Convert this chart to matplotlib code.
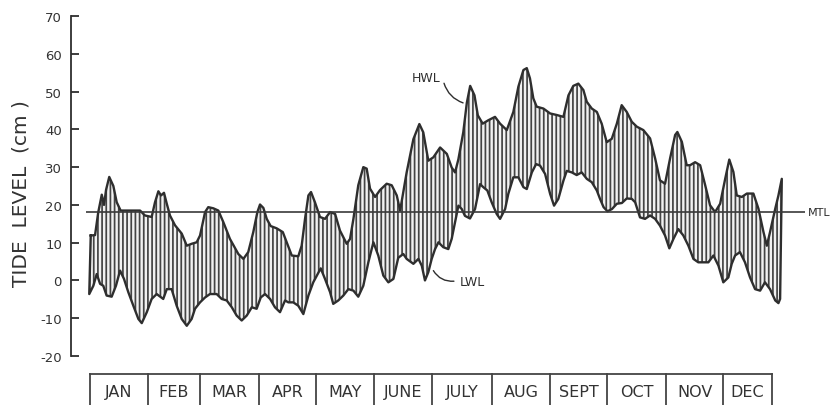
import numpy as np
import matplotlib
matplotlib.use("Agg")
import matplotlib.pyplot as plt

# ---------------- data (day of year, cm) ----------------
hwl_day = [0.4, 2.7, 4.4, 6.3, 7.5, 8.6, 10.3, 12.5, 14.3, 16.4, 19.6, 26.8, 29.4, 33.0, 34.8,
           36.6, 38.0, 39.6, 41.1, 42.8, 45.5, 49.1, 51.8, 54.4, 57.1, 58.9, 61.6, 63.3, 66.0,
           68.7, 71.4, 74.9, 79.4, 82.1, 84.7, 87.4, 89.6, 91.0, 92.8, 94.6, 96.7, 99.9, 103.2,
           105.3, 108.0, 111.5, 113.3, 115.1, 116.9, 118.3, 120.4, 123.1, 125.8, 128.5, 131.2,
           133.8, 137.4, 139.2, 141.0, 143.6, 146.3, 148.1, 149.9, 152.6, 155.2, 158.8, 161.5,
           164.2, 166.0, 169.5, 173.1, 176.3, 178.4, 181.1, 183.8, 187.4, 191.0, 193.6, 195.4,
           197.2, 199.8, 201.7, 203.5, 205.8, 207.6, 210.2, 213.2, 216.8, 219.5, 223.1, 226.6,
           229.3, 232.0, 233.8, 235.5, 237.3, 239.1, 242.7, 246.3, 249.8, 253.4, 256.1, 258.7,
           261.4, 264.1, 265.9, 268.6, 271.3, 273.9, 276.6, 279.3, 282.0, 284.6, 287.3, 290.0,
           292.7, 296.2, 299.8, 302.5, 305.1, 307.8, 310.5, 313.2, 314.4, 316.8, 319.4, 321.2,
           323.9, 326.6, 329.3, 331.9, 334.6, 337.3, 340.0, 342.2, 344.4, 346.2, 348.9, 351.6,
           355.1, 357.8, 360.5, 362.3, 364.0, 366.8, 368.5, 370.3]
hwl_cm = [11.9, 12.0, 18.0, 22.7, 20.0, 24.0, 27.4, 25.0, 20.7, 18.5, 18.5, 18.5, 17.2, 16.8, 20.7,
          23.6, 22.5, 23.2, 20.3, 17.2, 14.6, 12.4, 9.2, 9.7, 10.1, 11.9, 18.1, 19.4, 19.1,
          18.5, 15.4, 11.0, 7.0, 5.7, 7.5, 12.8, 18.1, 20.1, 19.2, 16.3, 14.4, 13.8, 12.8,
          10.1, 6.6, 6.4, 9.2, 16.3, 22.5, 23.4, 20.7, 16.8, 16.3, 18.1, 17.6,
          13.2, 9.7, 11.0, 16.3, 25.2, 30.0, 29.6, 24.3, 22.1, 23.9, 25.6, 25.2,
          22.5, 18.5, 28.6, 37.4, 41.4, 39.2, 31.7, 32.6, 35.2, 33.5, 29.9, 28.6,
          32.1, 39.2, 47.0, 51.5, 49.0, 43.7, 41.5, 42.4, 43.3, 41.5, 39.8, 44.6,
          51.3, 55.7, 56.2, 53.5, 48.2, 46.0, 45.5, 44.2, 43.8, 43.3, 49.0, 51.5,
          52.1, 50.4, 47.3, 45.5, 44.6, 41.5, 36.6, 37.5, 41.5, 46.4, 44.6, 42.0,
          40.7, 39.8, 37.6, 32.3, 26.5, 25.6, 32.3, 38.5, 39.3, 36.7, 30.5, 30.5,
          31.3, 30.5, 25.2, 19.9, 18.1, 20.3, 26.9, 32.0, 28.7, 22.5, 22.1, 23.0,
          23.0, 19.0, 12.8, 9.2, 12.8, 19.0, 22.5, 26.9]

lwl_day = [-0.4, 1.8, 3.6, 5.4, 7.1, 8.9, 11.6, 13.9, 16.1, 18.2, 20.5, 23.2, 25.9, 27.7, 30.4,
           33.0, 35.7, 39.2, 41.1, 43.7, 46.4, 49.1, 51.8, 54.4, 56.2, 58.9, 61.6, 64.2, 67.8,
           70.5, 73.2, 75.9, 78.5, 81.2, 83.9, 86.6, 89.2, 91.4, 93.7, 96.4, 99.0, 101.7, 104.4,
           106.2, 108.8, 111.5, 114.2, 116.9, 119.5, 123.5, 125.8, 128.5, 130.2, 132.9, 135.6,
           138.3, 141.0, 143.6, 146.3, 149.0, 151.7, 154.3, 157.0, 159.7, 162.4, 165.0, 167.7,
           169.5, 173.1, 175.8, 177.6, 179.3, 181.1, 182.9, 184.7, 186.5, 189.1, 191.8, 193.6,
           195.4, 197.2, 199.0, 200.7, 203.4, 206.1, 208.8, 210.5, 212.7, 215.0, 217.7, 219.5,
           222.2, 223.9, 226.6, 229.3, 232.0, 233.8, 236.5, 238.8, 240.9, 243.6, 246.3, 248.4,
           250.7, 253.4, 255.2, 257.9, 260.5, 263.2, 265.9, 268.6, 271.3, 273.0, 274.9, 277.0,
           279.4, 282.0, 284.7, 287.3, 290.0, 291.8, 294.4, 297.1, 299.8, 302.5, 305.1, 307.8,
           310.1, 312.3, 314.9, 317.6, 320.3, 323.0, 325.6, 328.3, 331.0, 333.7, 336.4, 339.0,
           341.7, 343.5, 345.3, 347.9, 350.6, 353.3, 356.0, 358.7, 361.3, 364.0, 366.8, 368.5,
           369.4]
lwl_cm = [-3.6, -1.4, 1.7, -0.9, -1.4, -4.0, -4.3, -1.4, 2.6, 0.4, -3.1, -6.7, -10.2, -11.3, -8.4,
          -4.9, -3.6, -4.9, -2.3, -2.3, -6.7, -10.2, -12.0, -10.2, -7.5, -5.8, -4.5, -3.6, -3.6,
          -4.9, -5.3, -7.1, -9.3, -10.6, -9.3, -7.1, -7.5, -4.5, -3.6, -4.9, -7.1, -8.4, -5.3,
          -5.8, -5.8, -6.7, -8.9, -4.0, -0.5, 3.2, 0.4, -3.1, -6.2, -5.3, -4.0,
          -2.3, -2.7, -4.3, -1.4, 4.8, 10.1, 6.6, 1.3, -0.5, 0.4, 6.0, 7.0,
          5.7, 4.4, 5.7, 3.9, 0.0, 2.2, 5.7, 8.3, 10.1, 8.8, 8.3, 11.0,
          15.4, 19.8, 18.9, 17.1, 16.4, 18.9, 25.5, 24.7, 23.8, 20.7, 17.6, 16.3,
          18.9, 22.9, 27.3, 27.3, 24.7, 24.2, 28.6, 30.8, 30.4, 28.2, 22.9, 19.8,
          21.6, 26.4, 29.0, 28.6, 27.9, 28.6, 26.9, 26.0, 23.8, 21.6, 19.4, 18.3,
          18.9, 20.3, 20.5, 21.7, 21.6, 20.7, 16.7, 16.3, 17.2, 16.3, 14.5, 11.9,
          8.5, 11.0, 13.6, 11.9, 9.2, 5.7, 4.8, 4.8, 4.8, 6.6, 3.9, -0.5,
          0.8, 4.4, 6.6, 7.5, 4.8, 0.8, -2.3, -2.7, -0.5, -2.3, -5.3, -6.0,
          -4.9]

mtl_cm = 18
months = ["JAN", "FEB", "MAR", "APR", "MAY", "JUNE", "JULY", "AUG", "SEPT", "OCT", "NOV", "DEC"]
month_edges = [0, 31.0, 58.9, 90.5, 121.0, 152.0, 183.1, 215.2, 246.3, 276.8, 308.4, 338.9, 365.1]
yticks = [-20, -10, 0, 10, 20, 30, 40, 50, 60, 70]

# ---------------- figure ----------------
W, H = 837, 406
fig = plt.figure(figsize=(W / 100, H / 100), dpi=100)
fig.patch.set_facecolor("white")
ax = fig.add_axes([71 / W, 49 / H, (810 - 71) / W, 340 / H])
ax.set_xlim(-10.17, 385.4)
ax.set_ylim(-20, 70)

ink = "#2e2e2e"
plt.rcParams["hatch.linewidth"] = 1.25

hd, hv = np.array(hwl_day), np.array(hwl_cm)
ld, lv = np.array(lwl_day), np.array(lwl_cm)
px = np.r_[hd, ld[::-1]]
py = np.r_[hv, lv[::-1]]
ax.fill(px, py, facecolor="#f2f2f2", edgecolor="#444444", hatch="||||", linewidth=0, zorder=2)
ax.plot(np.r_[px, px[:1]], np.r_[py, py[:1]], color=ink, lw=1.7, zorder=3,
        solid_joinstyle="round")

# MTL
ax.hlines(mtl_cm, -2.1, 382.8, color="#3a3a3a", lw=1.2, zorder=4)
ax.text(384.3, mtl_cm, "MTL", va="center", ha="left", fontsize=8, color=ink, clip_on=False)

# HWL / LWL labels
ax.text(179.9, 53.6, "HWL", ha="center", va="center", fontsize=9, color=ink)
ax.annotate("", xy=(199.7, 47.0), xytext=(189.5, 52.2),
            arrowprops=dict(arrowstyle="-", color=ink, lw=1.0,
                            connectionstyle="arc3,rad=0.25", shrinkA=0, shrinkB=0))
ax.text(204.5, -0.4, "LWL", ha="center", va="center", fontsize=9, color=ink)
ax.annotate("", xy=(183.8, 2.6), xytext=(194.8, -0.2),
            arrowprops=dict(arrowstyle="-", color=ink, lw=1.0,
                            connectionstyle="arc3,rad=-0.3", shrinkA=0, shrinkB=0))

# axes styling
for s in ["top", "right", "bottom"]:
    ax.spines[s].set_visible(False)
ax.spines["left"].set_color(ink)
ax.spines["left"].set_linewidth(1.3)
ax.set_xticks([])
ax.set_yticks(yticks)
ax.set_yticklabels([str(t) for t in yticks])
ax.tick_params(axis="y", direction="in", length=5.5, width=1.3, color=ink,
               labelsize=9.5, labelcolor="#333333", pad=6.5)

fig.text(21 / W, 1 - 194 / H, "TIDE  LEVEL  (cm )", rotation=90, ha="center", va="center",
         fontsize=14.5, color="#333333")

# month boxes
box_top = -24.7
box_bot = -40
ax.plot([month_edges[0], month_edges[-1]], [box_top, box_top], color="#444444", lw=1.3,
        clip_on=False)
for e in month_edges:
    ax.plot([e, e], [box_top, box_bot], color="#444444", lw=1.3, clip_on=False)
for i, m in enumerate(months):
    ax.text((month_edges[i] + month_edges[i + 1]) / 2, -29.3, m, ha="center", va="center",
            fontsize=11.5, color="#333333", clip_on=False)

fig.savefig("out.png", dpi=100, facecolor="white")
